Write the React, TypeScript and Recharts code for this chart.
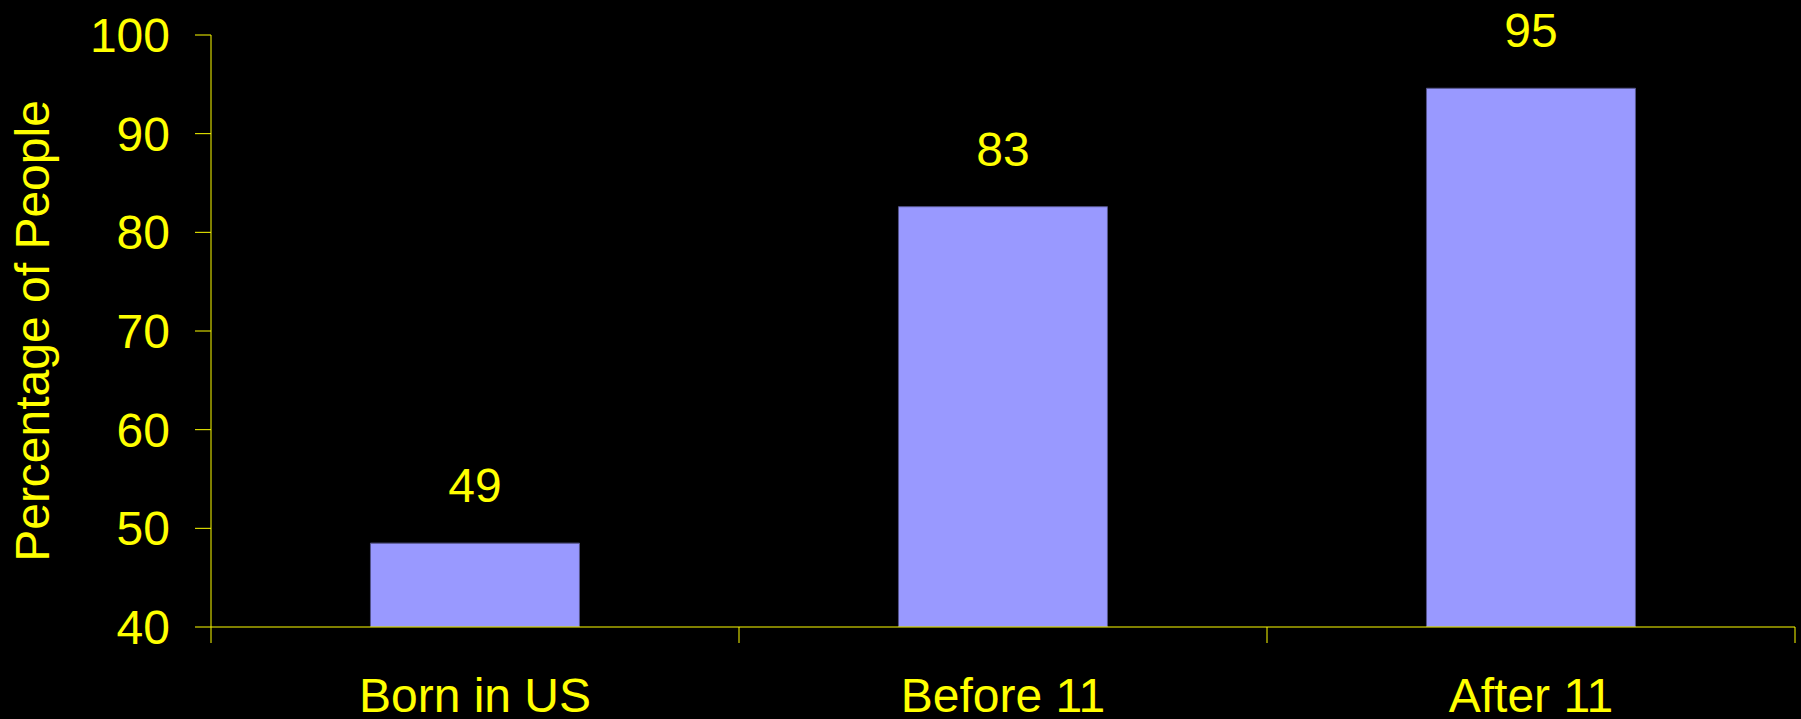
import React from 'react';
import { BarChart, Bar, XAxis, YAxis, LabelList } from 'recharts';

const categories = ['Born in US', 'Before 11', 'After 11'];
const values = [48.5, 82.6, 94.6];
const valueLabels = ['49', '83', '95'];
const yTicks = [40, 50, 60, 70, 80, 90, 100];

const data = categories.map((c, i) => ({ name: c, value: values[i], label: valueLabels[i] }));

const YELLOW = '#FFFF00';
const FONT = '"Liberation Sans", Arial, Helvetica, sans-serif';
const X_TICK = 16;

const XTick = (props: any) => {
  const { x, y, payload, index } = props;
  const half = payload && typeof payload.offset === 'number' ? payload.offset : 0;
  const axisY = y - X_TICK;
  const isLast = index === categories.length - 1;
  return (
    <g>
      <line x1={x - half} x2={x - half} y1={axisY} y2={axisY + X_TICK} stroke={YELLOW} strokeWidth={1} />
      {isLast && (
        <line x1={x + half} x2={x + half} y1={axisY} y2={axisY + X_TICK} stroke={YELLOW} strokeWidth={1} />
      )}
      <text x={x} y={axisY + 85} textAnchor="middle" fill={YELLOW} fontSize={48} fontFamily={FONT}>
        {payload.value}
      </text>
    </g>
  );
};

const YLabel = (props: any) => {
  const vb = props.viewBox || {};
  const cx = (vb.x ?? 0) + 32;
  const cy = (vb.y ?? 0) + (vb.height ?? 0) / 2;
  return (
    <text
      x={cx}
      y={cy}
      transform={`rotate(-90, ${cx}, ${cy})`}
      textAnchor="middle"
      dominantBaseline="central"
      fill={YELLOW}
      fontSize={48}
      fontFamily={FONT}
    >
      Percentage of People
    </text>
  );
};

export default function App() {
  return (
    <div style={{ position: 'absolute', left: 0, top: 0, width: 1801, height: 719, background: '#000' }}>
      <BarChart
        width={1801}
        height={719}
        data={data}
        margin={{ top: 35, right: 6, bottom: 0, left: 0 }}
        barCategoryGap="30.2%"
      >
        <XAxis
          dataKey="name"
          height={92}
          axisLine={{ stroke: YELLOW, strokeWidth: 1 }}
          tickLine={false}
          tickSize={X_TICK}
          tickMargin={0}
          tick={<XTick />}
          interval={0}
        />
        <YAxis
          domain={[40, 100]}
          ticks={yTicks}
          width={211}
          allowDataOverflow
          axisLine={{ stroke: YELLOW, strokeWidth: 1 }}
          tickLine={{ stroke: YELLOW, strokeWidth: 1 }}
          tickSize={16}
          tickMargin={25}
          tick={{ fill: YELLOW, fontSize: 48, fontFamily: FONT }}
          label={<YLabel />}
        />
        <Bar dataKey="value" fill="#9999FF" stroke="#55558a" strokeWidth={1} isAnimationActive={false}>
          <LabelList dataKey="label" position="top" offset={41} fill={YELLOW} fontSize={48} fontFamily={FONT} />
        </Bar>
      </BarChart>
    </div>
  );
}
